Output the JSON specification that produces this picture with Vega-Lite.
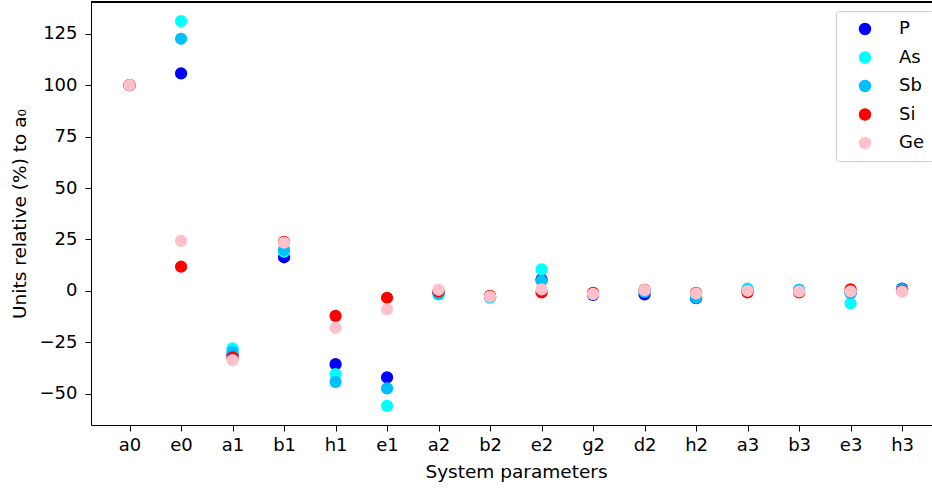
{
  "$schema": "https://vega.github.io/schema/vega-lite/v6.json",
  "autosize": {"type": "none"},
  "padding": {"left": 91, "top": 2, "right": 0, "bottom": 65},
  "width": 841,
  "height": 423,
  "background": "white",
  "config": {
    "font": "DejaVu Sans",
    "view": {"stroke": null},
    "axis": {
      "grid": false,
      "domainColor": "#000",
      "domainWidth": 1,
      "tickColor": "#000",
      "tickWidth": 1,
      "tickSize": 6,
      "labelColor": "#000",
      "titleColor": "#000",
      "labelFont": "DejaVu Sans",
      "titleFont": "DejaVu Sans",
      "labelFontSize": 18,
      "titleFontSize": 18.5,
      "titleFontWeight": "normal"
    },
    "legend": {
      "orient": "none",
      "legendX": 745,
      "legendY": 9,
      "title": null,
      "padding": 9,
      "symbolOffset": 11,
      "labelOffset": 25,
      "rowPadding": 10.5,
      "labelFontSize": 18,
      "labelFont": "DejaVu Sans",
      "labelColor": "#000",
      "symbolSize": 154,
      "symbolType": "circle",
      "symbolStrokeWidth": 0,
      "strokeColor": "#cccccc",
      "fillColor": "rgba(255,255,255,0.8)",
      "cornerRadius": 3
    }
  },
  "data": {
    "values": [
      {"param": "a0", "series": "P", "value": 100},
      {"param": "e0", "series": "P", "value": 105.8},
      {"param": "a1", "series": "P", "value": -31},
      {"param": "b1", "series": "P", "value": 16.3},
      {"param": "h1", "series": "P", "value": -35.7},
      {"param": "e1", "series": "P", "value": -42.1},
      {"param": "a2", "series": "P", "value": -1},
      {"param": "b2", "series": "P", "value": -3},
      {"param": "e2", "series": "P", "value": 5.5},
      {"param": "g2", "series": "P", "value": -2},
      {"param": "d2", "series": "P", "value": -1.8},
      {"param": "h2", "series": "P", "value": -3.6},
      {"param": "a3", "series": "P", "value": 0.3},
      {"param": "b3", "series": "P", "value": 0},
      {"param": "e3", "series": "P", "value": -1},
      {"param": "h3", "series": "P", "value": 1.1},

      {"param": "a0", "series": "As", "value": 100},
      {"param": "e0", "series": "As", "value": 131.2},
      {"param": "a1", "series": "As", "value": -28},
      {"param": "b1", "series": "As", "value": 19},
      {"param": "h1", "series": "As", "value": -40.5},
      {"param": "e1", "series": "As", "value": -56},
      {"param": "a2", "series": "As", "value": -1.8},
      {"param": "b2", "series": "As", "value": -3.3},
      {"param": "e2", "series": "As", "value": 10.4},
      {"param": "g2", "series": "As", "value": -1.5},
      {"param": "d2", "series": "As", "value": 0},
      {"param": "h2", "series": "As", "value": -2.5},
      {"param": "a3", "series": "As", "value": 1},
      {"param": "b3", "series": "As", "value": 0.3},
      {"param": "e3", "series": "As", "value": -6.1},
      {"param": "h3", "series": "As", "value": 0.5},

      {"param": "a0", "series": "Sb", "value": 100},
      {"param": "e0", "series": "Sb", "value": 122.6},
      {"param": "a1", "series": "Sb", "value": -29.7},
      {"param": "b1", "series": "Sb", "value": 20},
      {"param": "h1", "series": "Sb", "value": -44.3},
      {"param": "e1", "series": "Sb", "value": -47.5},
      {"param": "a2", "series": "Sb", "value": -1.5},
      {"param": "b2", "series": "Sb", "value": -3},
      {"param": "e2", "series": "Sb", "value": 4.9},
      {"param": "g2", "series": "Sb", "value": -1.5},
      {"param": "d2", "series": "Sb", "value": -0.5},
      {"param": "h2", "series": "Sb", "value": -3.4},
      {"param": "a3", "series": "Sb", "value": 0.5},
      {"param": "b3", "series": "Sb", "value": 0.5},
      {"param": "e3", "series": "Sb", "value": -1},
      {"param": "h3", "series": "Sb", "value": 0.8},

      {"param": "a0", "series": "Si", "value": 100},
      {"param": "e0", "series": "Si", "value": 11.7},
      {"param": "a1", "series": "Si", "value": -32.4},
      {"param": "b1", "series": "Si", "value": 23.8},
      {"param": "h1", "series": "Si", "value": -12.2},
      {"param": "e1", "series": "Si", "value": -3.4},
      {"param": "a2", "series": "Si", "value": -0.3},
      {"param": "b2", "series": "Si", "value": -2.5},
      {"param": "e2", "series": "Si", "value": -0.8},
      {"param": "g2", "series": "Si", "value": -1},
      {"param": "d2", "series": "Si", "value": 0.5},
      {"param": "h2", "series": "Si", "value": -1},
      {"param": "a3", "series": "Si", "value": -0.8},
      {"param": "b3", "series": "Si", "value": -0.8},
      {"param": "e3", "series": "Si", "value": 0.7},
      {"param": "h3", "series": "Si", "value": 0},

      {"param": "a0", "series": "Ge", "value": 100},
      {"param": "e0", "series": "Ge", "value": 24.3},
      {"param": "a1", "series": "Ge", "value": -33.7},
      {"param": "b1", "series": "Ge", "value": 23.4},
      {"param": "h1", "series": "Ge", "value": -18},
      {"param": "e1", "series": "Ge", "value": -9},
      {"param": "a2", "series": "Ge", "value": 0.5},
      {"param": "b2", "series": "Ge", "value": -2.8},
      {"param": "e2", "series": "Ge", "value": 0.7},
      {"param": "g2", "series": "Ge", "value": -1.5},
      {"param": "d2", "series": "Ge", "value": 0.3},
      {"param": "h2", "series": "Ge", "value": -1.3},
      {"param": "a3", "series": "Ge", "value": 0},
      {"param": "b3", "series": "Ge", "value": -0.3},
      {"param": "e3", "series": "Ge", "value": -0.3},
      {"param": "h3", "series": "Ge", "value": -0.4}
    ]
  },
  "layer": [
    {
      "mark": {"type": "rule", "color": "#000", "strokeWidth": 1},
      "encoding": {"y": {"datum": 140.5}}
    },
    {
      "mark": {"type": "point", "filled": true, "opacity": 1, "size": 150, "strokeWidth": 0},
      "encoding": {
        "x": {
          "field": "param",
          "type": "nominal",
          "sort": ["a0","e0","a1","b1","h1","e1","a2","b2","e2","g2","d2","h2","a3","b3","e3","h3"],
          "scale": {"type": "point", "padding": 0.665, "align": 0.563},
          "axis": {"labelAngle": 0, "title": "System parameters", "labelPadding": 5, "titlePadding": 8, "titleX": 425}
        },
        "y": {
          "field": "value",
          "type": "quantitative",
          "scale": {"domain": [-65.3, 140.5], "nice": false, "zero": false},
          "axis": {"values": [-50,-25,0,25,50,75,100,125], "title": "Units relative (%) to a₀", "labelPadding": 8, "titlePadding": 10}
        },
        "color": {
          "field": "series",
          "type": "nominal",
          "sort": ["P","As","Sb","Si","Ge"],
          "scale": {"domain": ["P","As","Sb","Si","Ge"], "range": ["#0000ff","#00ffff","#00bfff","#ff0000","#ffc0cb"]}
        }
      }
    }
  ]
}
